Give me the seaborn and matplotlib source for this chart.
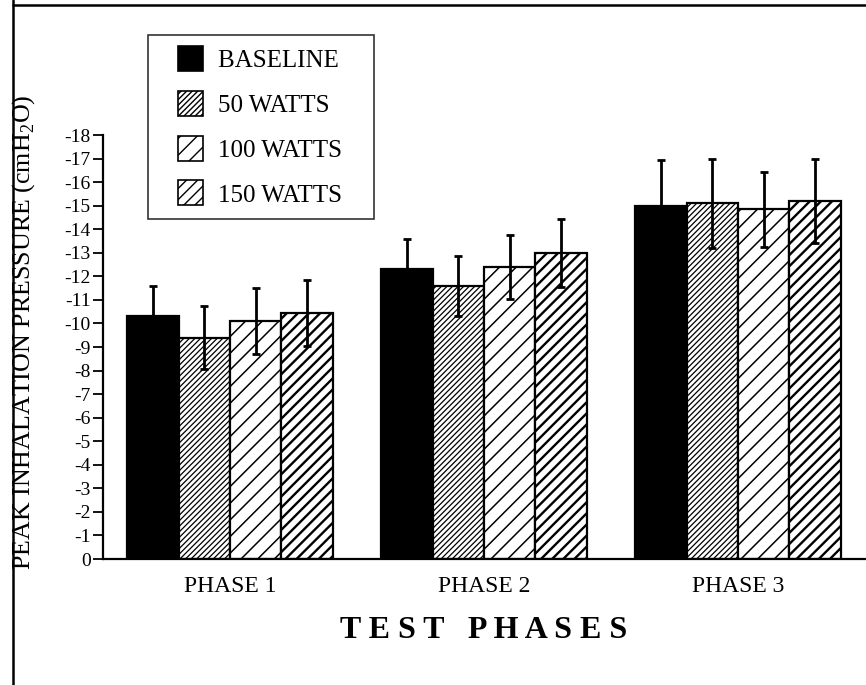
import numpy as np
import pandas as pd
import matplotlib
matplotlib.use("Agg")
import matplotlib.pyplot as plt
from matplotlib.lines import Line2D
from matplotlib.patches import Rectangle, Patch
from matplotlib.legend_handler import HandlerPatch
import seaborn as sns

# values (cmH2O, negative pressure)
phases = ["PHASE 1", "PHASE 2", "PHASE 3"]
loads = ["BASELINE", "50 WATTS", "100 WATTS", "150 WATTS"]

baseline = [-10.3, -12.3, -15.0]
watts_50 = [-9.4, -11.6, -15.1]
watts_100 = [-10.1, -12.4, -14.85]
watts_150 = [-10.45, -13.0, -15.2]

baseline_err = [1.3, 1.3, 1.95]
watts_50_err = [1.35, 1.27, 1.9]
watts_100_err = [1.4, 1.35, 1.6]
watts_150_err = [1.4, 1.45, 1.8]

yticks = list(range(0, -19, -1))

sns.set_style("ticks")
plt.rcParams['font.family'] = ['Liberation Serif', 'DejaVu Serif']
plt.rcParams['axes.unicode_minus'] = False
plt.rcParams['mathtext.fontset'] = 'custom'
plt.rcParams['mathtext.rm'] = 'Liberation Serif'
plt.rcParams['hatch.linewidth'] = 1.0
for k in ['text.color', 'axes.labelcolor', 'xtick.color', 'ytick.color', 'axes.edgecolor']:
    plt.rcParams[k] = 'black'

df = pd.DataFrame({
    'phase': phases * 4,
    'load': [l for l in loads for _ in phases],
    'value': baseline + watts_50 + watts_100 + watts_150,
    'err': baseline_err + watts_50_err + watts_100_err + watts_150_err,
})

fig = plt.figure(figsize=(8.66, 6.85), dpi=100)
ax = fig.add_axes([103 / 866, 1 - 559 / 685, 762 / 866, 424 / 685])

palette = {'BASELINE': 'black', '50 WATTS': 'white', '100 WATTS': 'white', '150 WATTS': 'white'}
sns.barplot(data=df, x='phase', y='value', hue='load', order=phases, hue_order=loads,
            palette=palette, errorbar=None, width=0.81, edgecolor='black',
            linewidth=1.6, saturation=1, legend=False, ax=ax)
bar_conts = list(ax.containers)

hatches = [None, '//////', '//', '///']
hatch_lw = [1.0, 0.9, 1.1, 1.7]
for cont, h, hl in zip(bar_conts, hatches, hatch_lw):
    for bar in cont.patches:
        if h:
            bar.set_hatch(h)
        if hasattr(bar, 'set_hatch_linewidth'):
            bar.set_hatch_linewidth(hl)

# error bars at the bar centres
for cont, load in zip(bar_conts, loads):
    sub = df[df['load'] == load]
    xs = [b.get_x() + b.get_width() / 2 for b in cont.patches]
    ax.errorbar(xs, sub['value'].values, yerr=sub['err'].values, fmt='none',
                ecolor='black', elinewidth=2, capsize=3, capthick=2, zorder=5)

ax.set_xlim(-0.5, 2.5)
ax.set_ylim(0, -18)
ax.set_yticks(yticks)
ax.set_yticklabels([str(t) for t in yticks])
ax.tick_params(axis='y', length=7, width=1.3, pad=2, labelsize=14)
ax.tick_params(axis='x', length=0, pad=12, labelsize=17)

sns.despine(ax=ax)
for s in ['left', 'bottom']:
    ax.spines[s].set_linewidth(1.6)

ax.set_ylabel('PEAK INHALATION PRESSURE (cmH$_2$O)', fontsize=18.7)
ax.yaxis.set_label_coords(-0.086, 0.535)
ax.set_xlabel('T E S T   P H A S E S', fontsize=23, fontweight='bold')
ax.xaxis.set_label_coords(0.5, -0.135)


# legend squares sit inset from the frame edge
def square_patch(legend, orig_handle, xdescent, ydescent, width, height, fontsize):
    sq = 18
    return Rectangle((-xdescent + width - sq, -ydescent + (height - sq) / 2), sq, sq)


handles = []
for cont in bar_conts:
    p = cont.patches[0]
    hp = Patch(facecolor=p.get_facecolor(), edgecolor='black', hatch=p.get_hatch(), linewidth=1.2)
    if hasattr(p, 'get_hatch_linewidth'):
        hp.set_hatch_linewidth(p.get_hatch_linewidth())
    handles.append(hp)

leg = ax.legend(handles, [l + '   ' for l in loads], loc='upper left',
                bbox_to_anchor=(148 / 866, 1 - 35 / 685), bbox_transform=fig.transFigure,
                fontsize=18, frameon=True, fancybox=False, shadow=False,
                handlelength=1.7, handleheight=1.0, labelspacing=0.8,
                handletextpad=0.62, borderpad=0.5, borderaxespad=0,
                handler_map={Patch: HandlerPatch(patch_func=square_patch)})
leg.get_frame().set_edgecolor('black')
leg.get_frame().set_linewidth(1.2)

# scanned page border
fig.add_artist(Line2D([13 / 866, 13 / 866], [0, 1], color='black', lw=1.8))
fig.add_artist(Line2D([13 / 866, 1], [1 - 5 / 685, 1 - 5 / 685], color='black', lw=1.8))

fig.savefig('out.png', dpi=100)
